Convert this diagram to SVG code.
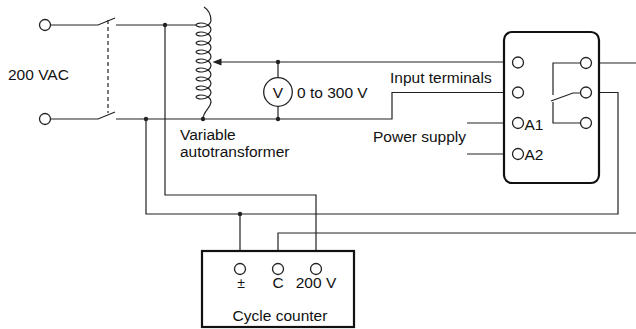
<svg xmlns="http://www.w3.org/2000/svg" width="636" height="329" viewBox="0 0 636 329">
<defs>
<style>
.w{fill:none;stroke:#222;stroke-width:1.2}
.t{fill:#fff;stroke:#222;stroke-width:1.3}
.d{fill:#222}
.box{fill:#fff;stroke:#111;stroke-width:2.2}
text{font-family:"Liberation Sans",Arial,sans-serif;font-size:15.5px;fill:#111}
text.pm{font-size:14px}
</style>
</defs>
<rect width="636" height="329" fill="#fff"/>
<g id="connectors">
<path class="w" d="M50.5,25 H98 L115,18 M116,25 H196"/>
<path class="w" d="M50.5,119 H98 L115,112 M116,119 H392 V92.5 H512.5"/>
<path class="w" d="M108,20 V113" stroke-dasharray="4,3"/>
<path class="w" d="M165,25 V195 H316 V263.5"/>
<path class="w" d="M146,119 V214 H618 V92.5 H591.5"/>
<path class="w" d="M240,214 V263.5"/>
<path class="w" d="M636,233 H278 V263.5"/>
<path class="w" d="M221,62 H512.5"/>
<path fill="#222" d="M212.5,62 L221.5,58.5 L221.5,65.5 Z"/>
<path class="w" d="M278,62 V77.7 M278,106.3 V119"/>
<path class="w" d="M467,123 H512.5 M467,154 H512.5"/>
<path class="w" d="M591.5,63 H636"/>
<circle class="d" cx="165" cy="25" r="2.2"/>
<circle class="d" cx="146" cy="119" r="2.2"/>
<circle class="d" cx="203" cy="119" r="2.2"/>
<circle class="d" cx="278" cy="62" r="2.2"/>
<circle class="d" cx="278" cy="119" r="2.2"/>
<circle class="d" cx="240" cy="214" r="2.2"/>
</g>
<g id="source">
<circle class="t" cx="45" cy="25" r="5.5"/>
<circle class="t" cx="45" cy="119" r="5.5"/>
<text x="8" y="80">200 VAC</text>
</g>
<g id="autotransformer">
<path class="w" d="M204,7 C207,9 211,12 211,20.5
c0,2.844 -3.6,5.5 -7.5,6.25 c-4,0.75 -7.5,-0.405 -7.5,-1.75 c0,-1.345 3.6,-2.5 7.5,-1.75 c4,0.75 7.5,3.406 7.5,6.25
c0,2.844 -3.6,5.5 -7.5,6.25 c-4,0.75 -7.5,-0.405 -7.5,-1.75 c0,-1.345 3.6,-2.5 7.5,-1.75 c4,0.75 7.5,3.406 7.5,6.25
c0,2.844 -3.6,5.5 -7.5,6.25 c-4,0.75 -7.5,-0.405 -7.5,-1.75 c0,-1.345 3.6,-2.5 7.5,-1.75 c4,0.75 7.5,3.406 7.5,6.25
c0,2.844 -3.6,5.5 -7.5,6.25 c-4,0.75 -7.5,-0.405 -7.5,-1.75 c0,-1.345 3.6,-2.5 7.5,-1.75 c4,0.75 7.5,3.406 7.5,6.25
c0,2.844 -3.6,5.5 -7.5,6.25 c-4,0.75 -7.5,-0.405 -7.5,-1.75 c0,-1.345 3.6,-2.5 7.5,-1.75 c4,0.75 7.5,3.406 7.5,6.25
c0,2.844 -3.6,5.5 -7.5,6.25 c-4,0.75 -7.5,-0.405 -7.5,-1.75 c0,-1.345 3.6,-2.5 7.5,-1.75 c4,0.75 7.5,3.406 7.5,6.25
c0,2.844 -3.6,5.5 -7.5,6.25 c-4,0.75 -7.5,-0.405 -7.5,-1.75 c0,-1.345 3.6,-2.5 7.5,-1.75 c4,0.75 7.5,3.406 7.5,6.25
c0,2.844 -3.6,5.5 -7.5,6.25 c-4,0.75 -7.5,-0.405 -7.5,-1.75 c0,-1.345 3.6,-2.5 7.5,-1.75 c4,0.75 7.5,3.406 7.5,6.25
c0,2.844 -3.6,5.5 -7.5,6.25 c-4,0.75 -7.5,-0.405 -7.5,-1.75 c0,-1.345 3.6,-2.5 7.5,-1.75 c4,0.75 7.5,3.406 7.5,6.25
C211,108 203,111 203,119"/>
<text x="180" y="140">Variable</text>
<text x="180" y="157">autotransformer</text>
</g>
<g id="voltmeter">
<circle class="t" cx="278" cy="92" r="14.3"/>
<text x="278" y="97.5" text-anchor="middle">V</text>
<text x="297" y="98">0 to 300 V</text>
</g>
<g id="relay">
<rect class="box" x="504" y="32" width="95" height="151" rx="8"/>
<circle class="t" cx="518" cy="62.5" r="5.5"/>
<circle class="t" cx="518" cy="92.5" r="5.5"/>
<circle class="t" cx="518" cy="123" r="5.5"/>
<circle class="t" cx="518" cy="154" r="5.5"/>
<path class="w" d="M580.5,63 H553 V95 M553,102 V123 H580.5 M551,101 L573,93 H580.5"/>
<circle class="t" cx="586" cy="63" r="5.5"/>
<circle class="t" cx="586" cy="92.5" r="5.5"/>
<circle class="t" cx="586" cy="123" r="5.5"/>
<text x="524.5" y="129.5">A1</text>
<text x="524.5" y="160">A2</text>
<text x="390" y="83">Input terminals</text>
<text x="373" y="142">Power supply</text>
</g>
<g id="counter">
<rect class="box" x="202" y="251" width="152" height="76"/>
<circle class="t" cx="240" cy="269" r="5.5"/>
<circle class="t" cx="278" cy="269" r="5.5"/>
<circle class="t" cx="316" cy="269" r="5.5"/>
<text class="pm" x="241" y="288" text-anchor="middle">±</text>
<text x="278" y="288" text-anchor="middle">C</text>
<text x="316" y="288" text-anchor="middle">200 V</text>
<text x="280" y="320.5" text-anchor="middle">Cycle counter</text>
</g>
</svg>
